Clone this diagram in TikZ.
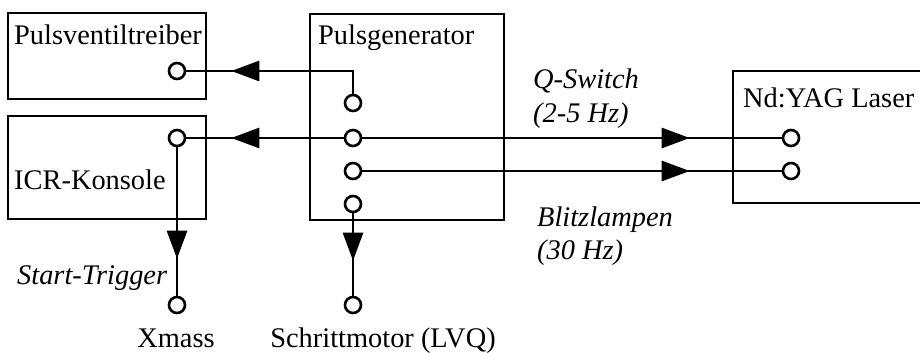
\documentclass[tikz,border=0pt]{standalone}
\usepackage{fontspec}
\setmainfont{Liberation Serif}
\usetikzlibrary{arrows.meta,decorations.markings}

\begin{document}
\begin{tikzpicture}[x=1pt, y=-1pt, font=\fontsize{28.4}{34}\selectfont,
  kasten/.style={draw, line width=2.8pt, inner sep=0pt},
  port/.style={circle, draw, fill=white, line width=2.6pt, minimum size=16pt, inner sep=0pt},
  txt/.style={anchor=base west, inner sep=0pt},
  lbl/.style={anchor=base west, inner sep=0pt, font=\fontsize{28.4}{34}\selectfont\itshape},
  sig/.style={line width=2.8pt, postaction={decorate},
    decoration={markings, mark=at position #1 with {\arrow{Triangle[length=28pt, width=20pt]}}}}]
\useasboundingbox (0,0) rectangle (920,353);

% ---------------- boxes
\node[kasten, minimum width=198, minimum height=86] (pvt) at (107,56) {};
\node[kasten, minimum width=198, minimum height=103] (icr) at (107,167.5) {};
\node[kasten, minimum width=194, minimum height=206] (gen) at (407,117) {};
\node[kasten, minimum width=220, minimum height=132] (laser) at (843,137) {};
\node[txt] (tpvt) at (14,45) {Pulsventiltreiber};
\node[txt] (ticr) at (14,189) {ICR-Konsole};
\node[txt] (tgen) at (318,45) {Pulsgenerator};
\node[txt] (tlaser) at (743,107) {Nd:YAG Laser};

% ---------------- ports
\node[port] (pv) at (177,71) {};
\node[port] (ic) at (177,138) {};
\node[port] (g1) at (353,103) {};
\node[port] (g2) at (353,138) {};
\node[port] (g3) at (353,171) {};
\node[port] (g4) at (353,204) {};
\node[port] (l1) at (791,138) {};
\node[port] (l2) at (791,171) {};
\node[port] (xm) at (177,305) {};
\node[port] (sm) at (353,305) {};

% ---------------- signals
\draw[sig=-45pt] (g1) |- (pv);
\draw[sig=-45pt] (g2) -- (ic);
\draw[sig=-92pt] (g2) -- (l1);
\draw[sig=-92pt] (g3) -- (l2);
\draw[sig=-37pt] (ic) -- (xm);
\draw[sig=-35pt] (g4) -- (sm);

% ---------------- labels
\node[lbl] (qsw) at (533,88) {Q-Switch};
\node[lbl] (qhz) at (533,122) {(2-5 Hz)};
\node[lbl] (blitz) at (537,226) {Blitzlampen};
\node[lbl] (bhz) at (537,259) {(30 Hz)};
\node[lbl] (start) at (17,284) {Start-Trigger};
\node[anchor=base, inner sep=0pt] (txm) at (176,347) {Xmass};
\node[anchor=base, inner sep=0pt] (tsm) at (383,347) {Schrittmotor (LVQ)};
\end{tikzpicture}
\end{document}
